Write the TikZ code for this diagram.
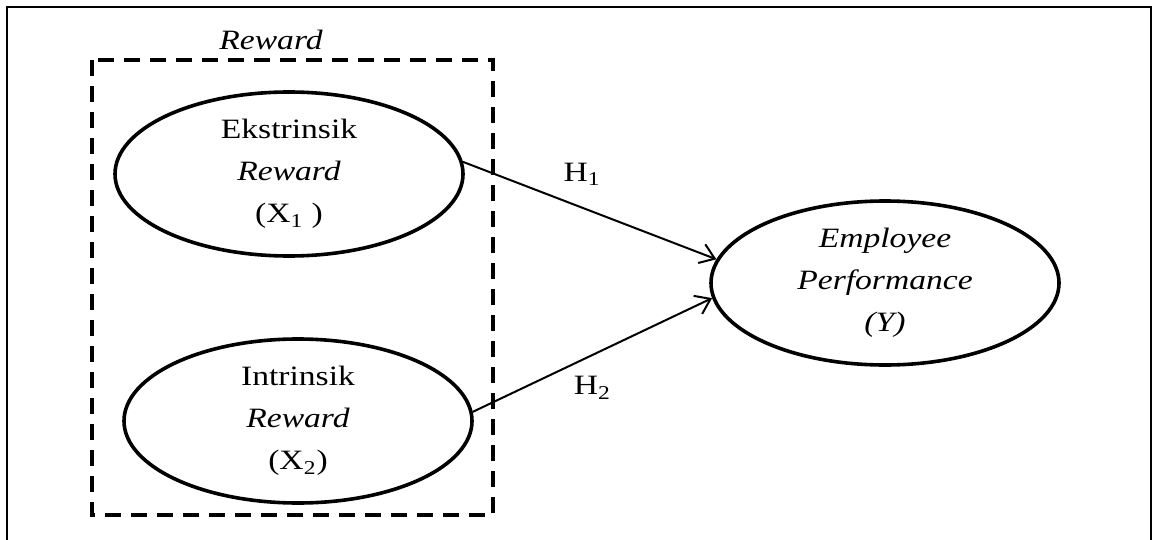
\documentclass[tikz,border=0pt]{standalone}
\usepackage{fontspec}
\setmainfont{Liberation Serif}[FakeStretch=1.2]
\usetikzlibrary{shapes.geometric,arrows.meta}

\begin{document}
\begin{tikzpicture}[x=0.5pt,y=-0.5pt]
    \tikzset{Latent/.style = {ellipse, draw, line width=1.8pt, minimum width=174pt,
        minimum height=82pt, inner sep=0pt, align=center, font=\fontsize{14}{21}\selectfont}}
    \tikzset{Path/.style = {-{Straight Barb[length=7pt,width=10pt]}, line width=1pt}}
    \tikzset{Hyp/.style = {font=\fontsize{14}{16}\selectfont}}
    \useasboundingbox (0,0) rectangle (1155,540);
    \draw[line width=0.6pt] (7,560) |- (1151,7) -- (1151,560);
    \draw[line width=1.8pt, dash pattern=on 8pt off 5pt] (92,60) rectangle (493,515);
    \node[Hyp, font=\fontsize{14}{16}\selectfont\itshape] (RW) at (271,40) {Reward};
    \node[Latent] (X1) at (289,174) {Ekstrinsik\\\textit{Reward}\\(X\textsubscript{1} )};
    \node[Latent] (X2) at (298,421) {Intrinsik\\\textit{Reward}\\(X\textsubscript{2})};
    \node[Latent] (Y) at (885,283) {\textit{Employee}\\\textit{Performance}\\\textit{(Y)}};
    \draw[Path] (X1.4) -- (Y.172) node[pos=0.47, above=7pt, Hyp] {H\textsubscript{1}};
    \draw[Path] (X2.3) -- (Y.185) node[pos=0.5, below=7pt, Hyp] {H\textsubscript{2}};
\end{tikzpicture}
\end{document}
